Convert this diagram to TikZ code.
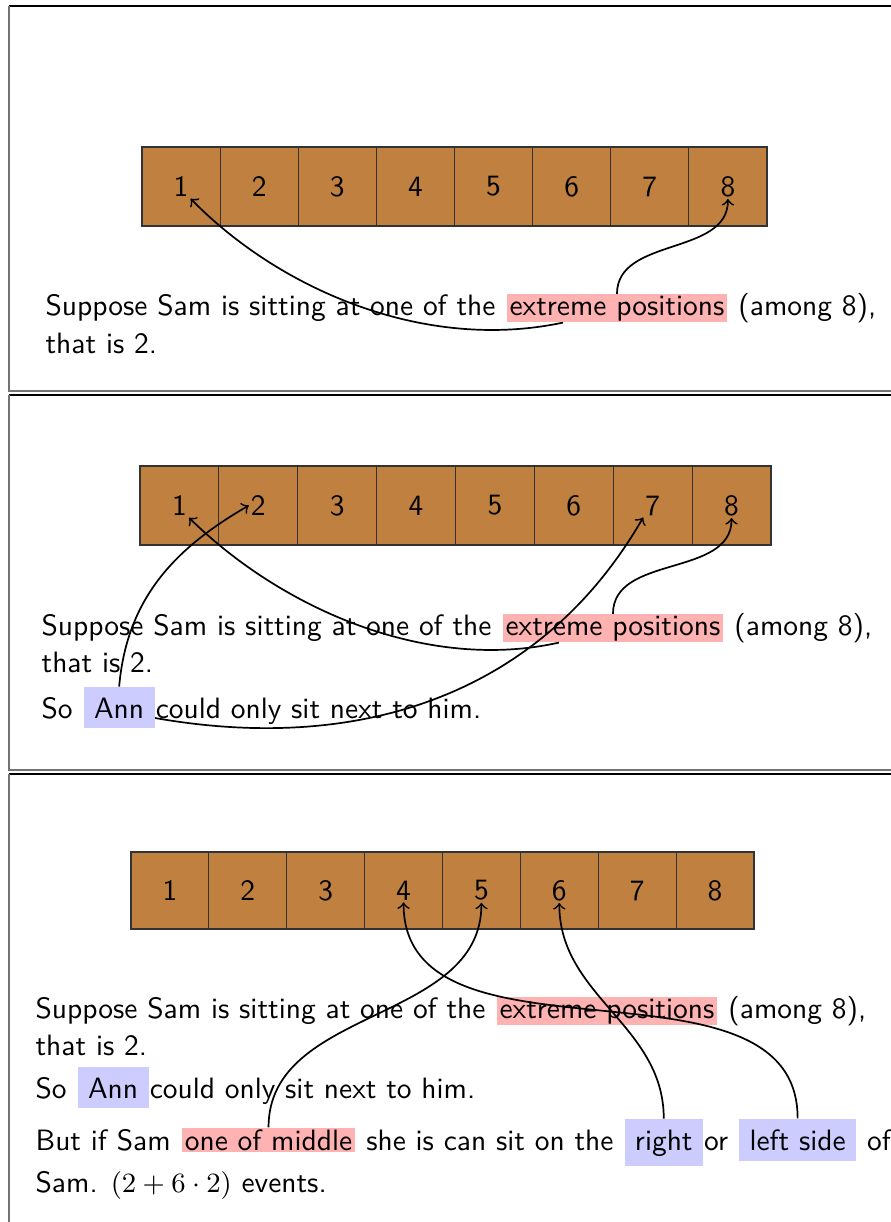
\documentclass[tikz,border=0pt]{standalone}
\usetikzlibrary{calc}
\begin{document}
\begin{tikzpicture}[x=0.3226pt,y=-0.3226pt,
  font=\sffamily\fontsize{9.5}{11.4}\selectfont,
  txt/.style={inner sep=0pt,anchor=base west},
  hlred/.style={fill=red!30,inner xsep=1pt,inner ysep=0.4pt,anchor=base west},
  hlblue/.style={fill=blue!20,anchor=base west},
  cell/.style={fill=brown,draw=black!80,line width=0.35pt},
  digit/.style={inner sep=0.5pt},
  arr/.style={->,line width=0.55pt},
  ftop/.style={line width=0.6pt,black},
  fside/.style={line width=0.6pt,black!55}]
\useasboundingbox (0,0) rectangle (891,1222);
% frames
\draw[ftop] (9,6) -- (891,6);
\draw[fside] (9,6) -- (9,391) -- (891,391);
\draw[ftop] (9,395) -- (891,395);
\draw[fside] (9,395) -- (9,770) -- (891,770);
\draw[ftop] (9,774) -- (891,774);
\draw[fside] (9,774) -- (9,1222);

% ---------- panel 1
\foreach \i in {1,...,8}{
  \draw[cell] ({142+(\i-1)*78.125},147) rectangle ++(78.125,79);
  \node[digit] (a\i) at ({142+(\i-0.5)*78.125},186.5) {\i};}
\node[txt] (a-l1) at (45,315) {Suppose Sam is sitting at one of the\ \null};
\node[hlred] (a-ext) at (a-l1.base east) {extreme positions};
\node[txt] at (a-ext.base east) {\ (among 8),};
\node[txt] at (45,353) {that is 2.};
\draw[arr] ($(a-ext.south)+(-54,0)$) .. controls (425,352) and (280,290) .. (a1.south east);
\draw[arr] (a-ext.north) to[out=90,in=-90] (a8.south);

% ---------- panel 2
\foreach \i in {1,...,8}{
  \draw[cell] ({140+(\i-1)*78.875},466) rectangle ++(78.875,79);
  \node[digit] (b\i) at ({140+(\i-0.5)*78.875},505.5) {\i};}
\node[txt] (b-l1) at (41,635) {Suppose Sam is sitting at one of the\ \null};
\node[hlred] (b-ext) at (b-l1.base east) {extreme positions};
\node[txt] at (b-ext.base east) {\ (among 8),};
\node[txt] at (41,672) {that is 2.};
\node[txt] (b-so) at (41,718) {So\ \null};
\node[hlblue] (b-ann) at (b-so.base east) {Ann};
\node[txt] at (b-ann.base east) {could only sit next to him.};
\draw[arr] ($(b-ext.south)+(-54,0)$) .. controls (428,672) and (283,610) .. (b1.south east);
\draw[arr] (b-ext.north) to[out=90,in=-90] (b8.south);
\draw[arr] (b-ann.north) to[out=85,in=210] (b2.west);
\draw[arr] (b-ann.base east) to[out=-10,in=240] (b7.south west);

% ---------- panel 3
\foreach \i in {1,...,8}{
  \draw[cell] ({131+(\i-1)*77.875},852) rectangle ++(77.875,77);
  \node[digit] (c\i) at ({131+(\i-0.5)*77.875},890.5) {\i};}
\node[txt] (c-l1) at (35,1018) {Suppose Sam is sitting at one of the\ \null};
\node[hlred] (c-ext) at (c-l1.base east) {extreme positions};
\node[txt] at (c-ext.base east) {\ (among 8),};
\node[txt] at (35,1055) {that is 2.};
\node[txt] (c-so) at (35,1098) {So\ \null};
\node[hlblue] (c-ann) at (c-so.base east) {Ann};
\node[txt] at (c-ann.base east) {could only sit next to him.};
\node[txt] (c-but) at (35,1150) {But if Sam\ \null};
\node[hlred] (c-mid) at (c-but.base east) {one of middle};
\node[txt] (c-she) at (c-mid.base east) {\ she is can sit on the\ \null};
\node[hlblue] (c-right) at (c-she.base east) {right};
\node[txt] (c-or) at (c-right.base east) {or\ \null};
\node[hlblue] (c-left) at (c-or.base east) {left side};
\node[txt] at (c-left.base east) {\ of};
\node[txt] at (35,1192) {Sam. $(2+6\cdot 2)$ events.};
\draw[arr] (c-left.north) to[out=90,in=-90] (c4.south);
\draw[arr] (c-right.north) to[out=90,in=-90] (c6.south);
\draw[arr] (c-mid.north) to[out=90,in=-90] (c5.south);
\end{tikzpicture}
\end{document}
